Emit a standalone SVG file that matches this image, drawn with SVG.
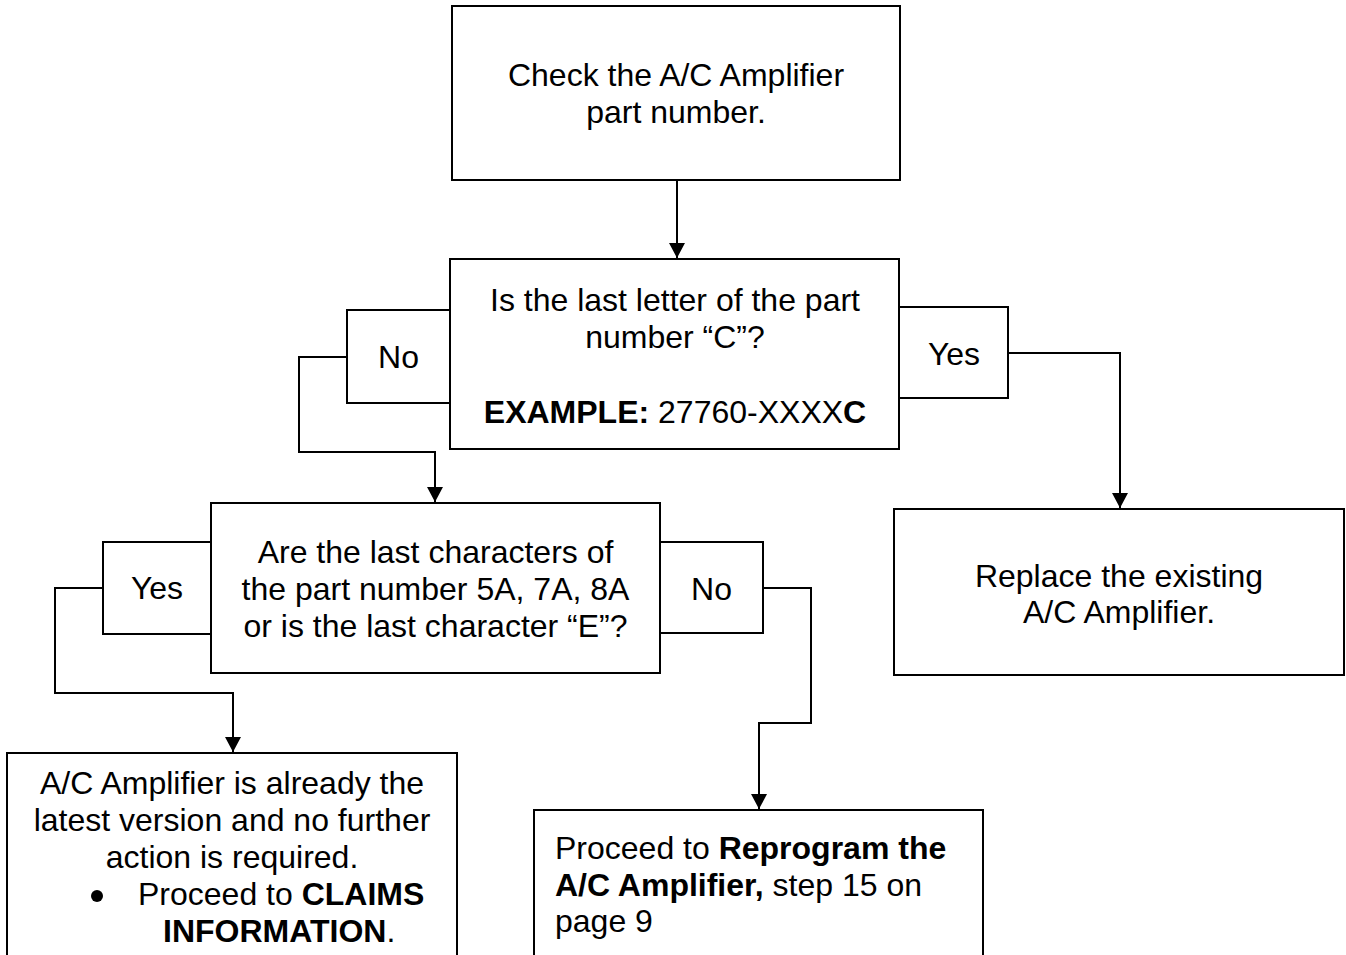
<svg xmlns="http://www.w3.org/2000/svg" width="1346" height="955" viewBox="0 0 1346 955">
<style>
.box{fill:#fff;stroke:#000;stroke-width:2}
.t{font-family:"Liberation Sans",Arial,sans-serif;font-size:32px;fill:#000}
.c{text-anchor:middle}
.b{font-weight:bold}
.conn{fill:none;stroke:#000;stroke-width:2}
</style>
<defs>
<marker id="ah" markerUnits="userSpaceOnUse" markerWidth="16" markerHeight="16" refX="15" refY="8" orient="auto">
<path d="M0,0 L15,8 L0,16 z" fill="#000"/>
</marker>
</defs>
<rect width="1346" height="955" fill="#fff"/>
<g id="connectors">
<path class="conn" d="M677,180 V258" marker-end="url(#ah)"/>
<path class="conn" d="M347,357 H299 V452 H435 V502" marker-end="url(#ah)"/>
<path class="conn" d="M1008,353 H1120 V508" marker-end="url(#ah)"/>
<path class="conn" d="M103,588 H55 V693 H233 V752" marker-end="url(#ah)"/>
<path class="conn" d="M763,588 H811 V723 H759 V809" marker-end="url(#ah)"/>
</g>
<g id="n1">
<rect class="box" x="452" y="6" width="448" height="174"/>
<text class="t c" x="676" y="86">Check the A/C Amplifier</text>
<text class="t c" x="676" y="123">part number.</text>
</g>
<g id="n2">
<rect class="box" x="450" y="259" width="449" height="190"/>
<text class="t c" x="675" y="311">Is the last letter of the part</text>
<text class="t c" x="675" y="348">number “C”?</text>
<text class="t c" x="675" y="423"><tspan class="b">EXAMPLE:</tspan> 27760-XXXX<tspan class="b">C</tspan></text>
</g>
<g id="n2-no">
<rect class="box" x="347" y="310" width="103" height="93"/>
<text class="t c" x="398.5" y="368">No</text>
</g>
<g id="n2-yes">
<rect class="box" x="899" y="307" width="109" height="91"/>
<text class="t c" x="954" y="365">Yes</text>
</g>
<g id="n3">
<rect class="box" x="211" y="503" width="449" height="170"/>
<text class="t c" x="435.5" y="563">Are the last characters of</text>
<text class="t c" x="435.5" y="600">the part number 5A, 7A, 8A</text>
<text class="t c" x="435.5" y="637">or is the last character “E”?</text>
</g>
<g id="n3-yes">
<rect class="box" x="103" y="542" width="108" height="92"/>
<text class="t c" x="157" y="599">Yes</text>
</g>
<g id="n3-no">
<rect class="box" x="660" y="542" width="103" height="91"/>
<text class="t c" x="711.5" y="600">No</text>
</g>
<g id="n4">
<rect class="box" x="894" y="509" width="450" height="166"/>
<text class="t c" x="1119" y="587">Replace the existing</text>
<text class="t c" x="1119" y="623">A/C Amplifier.</text>
</g>
<g id="n5">
<rect class="box" x="7" y="753" width="450" height="220"/>
<text class="t c" x="232" y="794">A/C Amplifier is already the</text>
<text class="t c" x="232" y="831">latest version and no further</text>
<text class="t c" x="232" y="868">action is required.</text>
<circle cx="97" cy="896" r="6" fill="#000"/>
<text class="t" x="138" y="905">Proceed to <tspan class="b">CLAIMS</tspan></text>
<text class="t" x="163" y="942"><tspan class="b">INFORMATION</tspan>.</text>
</g>
<g id="n6">
<rect class="box" x="534" y="810" width="449" height="165"/>
<text class="t" x="555" y="859">Proceed to <tspan class="b">Reprogram the</tspan></text>
<text class="t" x="555" y="896"><tspan class="b">A/C Amplifier,</tspan> step 15 on</text>
<text class="t" x="555" y="932">page 9</text>
</g>
</svg>
